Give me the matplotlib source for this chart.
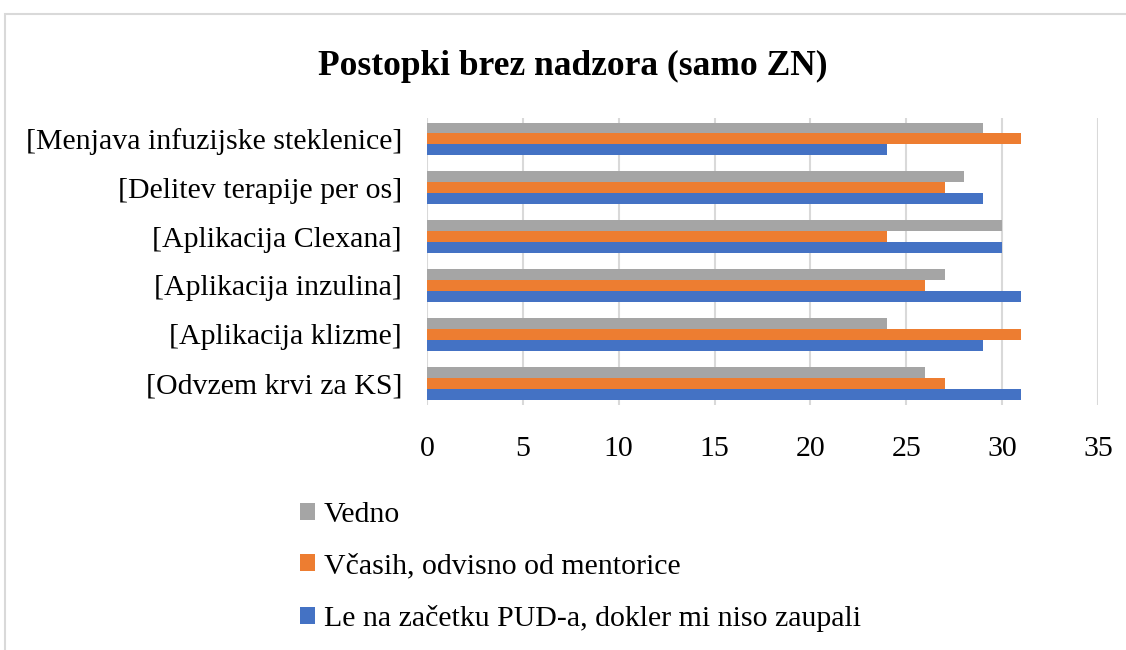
import matplotlib
matplotlib.use("Agg")
import matplotlib.pyplot as plt
import numpy as np
from matplotlib.patches import Rectangle

categories = ["[Odvzem krvi za KS]", "[Aplikacija klizme]", "[Aplikacija inzulina]",
              "[Aplikacija Clexana]", "[Delitev terapije per os]", "[Menjava infuzijske steklenice]"]
series_names = ["Vedno", "Včasih, odvisno od mentorice", "Le na začetku PUD-a, dokler mi niso zaupali"]
vedno = [26, 24, 27, 30, 28, 29]
vcasih = [27, 31, 26, 24, 27, 31]
le_na_zacetku = [31, 29, 31, 30, 29, 24]
colors = ["#a5a5a5", "#ed7d31", "#4472c4"]
xticks = [0, 5, 10, 15, 20, 25, 30, 35]

plt.rcParams['font.family'] = ['Liberation Serif', 'DejaVu Serif']

fig = plt.figure(figsize=(11.26, 6.5), dpi=100)
ax = fig.add_axes([427/1126, 1-405/650, (1098-427)/1126, (405-118)/650])

y = np.arange(len(categories))
h = 0.225
data = [vedno, vcasih, le_na_zacetku]
offsets = [h, 0, -h]
for vals, off, c, name in zip(data, offsets, colors, series_names):
    ax.barh(y + off, vals, height=h, color=c, label=name, zorder=3)

ax.set_xlim(0, 35)
ax.set_ylim(-0.45, 5.43)
ax.set_xticks(xticks)
ax.set_xticklabels([str(t) for t in xticks], fontsize=21.5)
ax.set_yticks(y)
ax.set_yticklabels(categories, fontsize=21.5)
ax.tick_params(axis='both', length=0)
ax.tick_params(axis='x', pad=22)
ax.tick_params(axis='y', pad=18)
ax.grid(axis='x', color='#d9d9d9', linewidth=1.5, zorder=0)
for s in ax.spines.values():
    s.set_visible(False)

fig.text(573/1126, 1-66/650, "Postopki brez nadzora (samo ZN)", ha='center', va='center',
         fontsize=25.5, fontweight='bold')

handles, labels = ax.get_legend_handles_labels()
leg = fig.legend(handles, labels, loc='upper left', bbox_to_anchor=(300/1126, 1-502/650),
                 frameon=False, fontsize=21.5, handlelength=0.5, handleheight=0.5,
                 handletextpad=0.3, labelspacing=0.85, borderaxespad=0, borderpad=0)

fig.patches.append(Rectangle((5/1126, -0.1), 1.2, 1-14/650 + 0.1, transform=fig.transFigure,
                             fill=False, edgecolor='#d9d9d9', linewidth=1.5))

fig.savefig("out.png", dpi=100)
